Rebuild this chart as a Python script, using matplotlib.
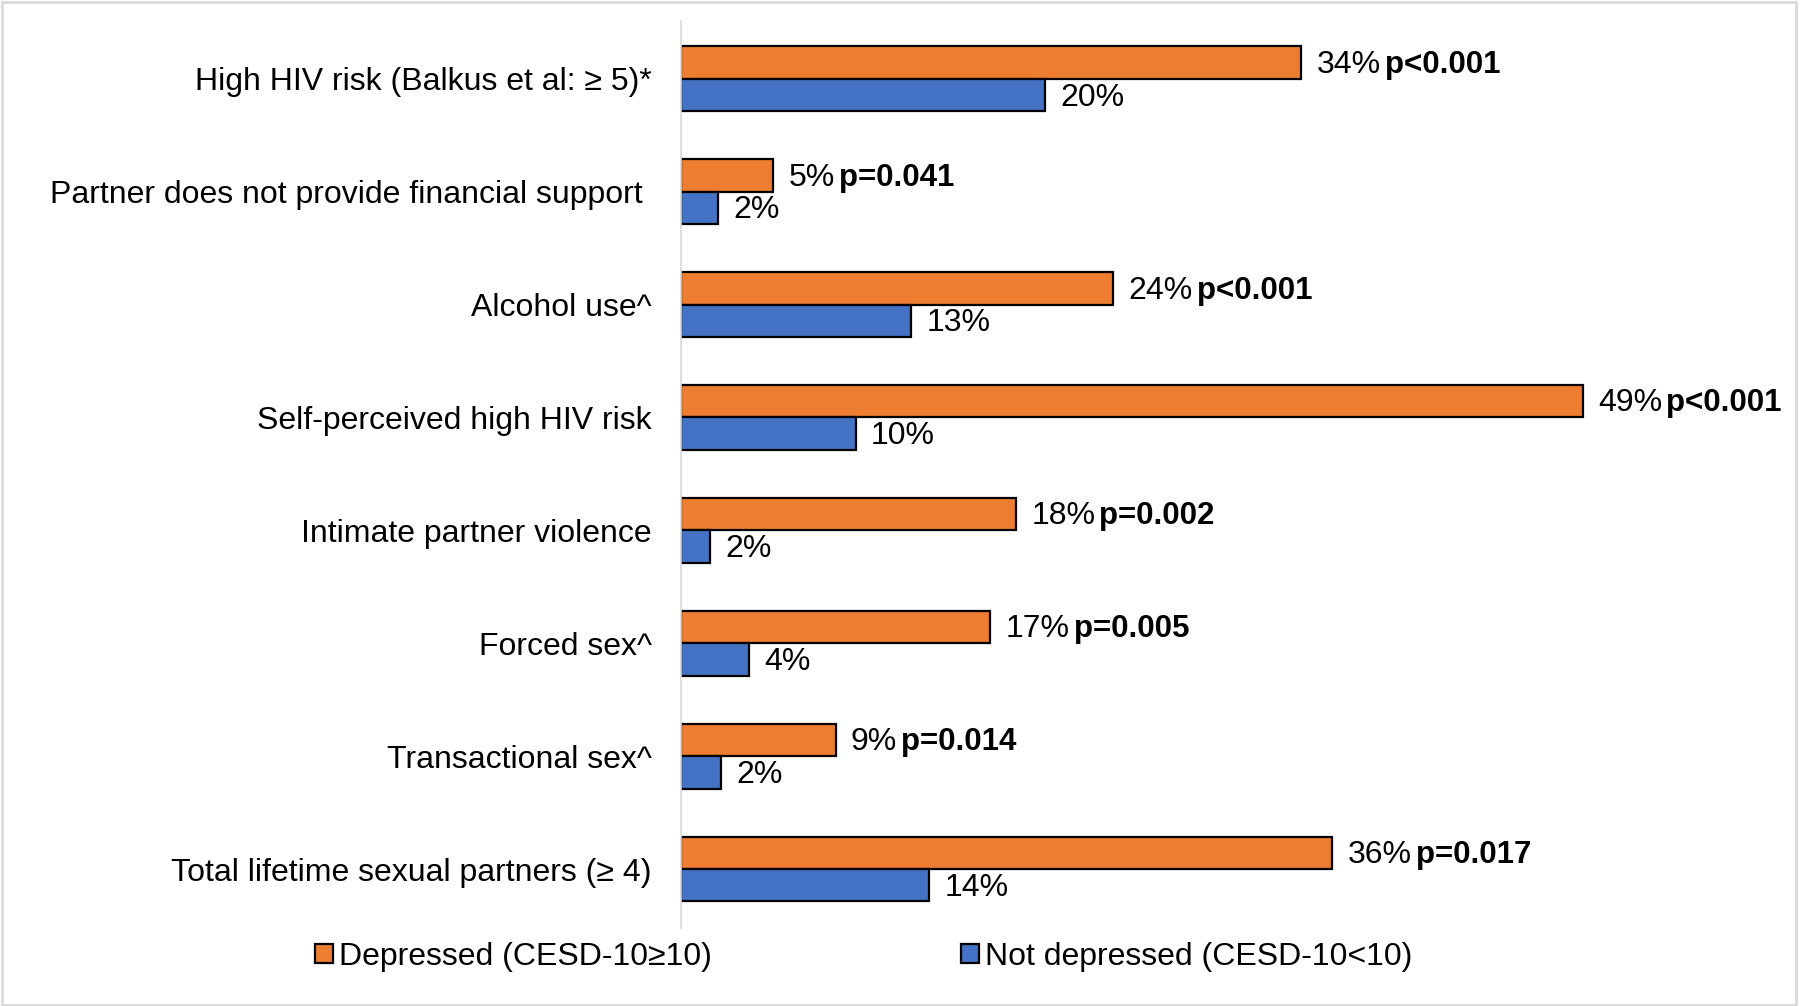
import numpy as np
import matplotlib.pyplot as plt
from matplotlib.patches import Rectangle

categories = [
    "High HIV risk (Balkus et al: \u2265 5)*",
    "Partner does not provide financial support ",
    "Alcohol use^",
    "Self-perceived high HIV risk",
    "Intimate partner violence",
    "Forced sex^",
    "Transactional sex^",
    "Total lifetime sexual partners (\u2265 4)",
]
# bar lengths (%), labels as printed
depressed = [33.7, 5.0, 23.5, 49.0, 18.2, 16.8, 8.4, 35.4]
not_depressed = [19.8, 2.0, 12.5, 9.5, 1.6, 3.7, 2.2, 13.5]
depressed_lbl = ["34%", "5%", "24%", "49%", "18%", "17%", "9%", "36%"]
not_depressed_lbl = ["20%", "2%", "13%", "10%", "2%", "4%", "2%", "14%"]
p_values = ["p<0.001", "p=0.041", "p<0.001", "p<0.001",
            "p=0.002", "p=0.005", "p=0.014", "p=0.017"]

plt.rcParams['font.family'] = ['Liberation Sans', 'DejaVu Sans']
FS = 23

orange = '#ED7D31'
blue = '#4472C4'

fig = plt.figure(figsize=(18, 10.06), dpi=100)
ax = fig.add_axes([681 / 1800, 0.0775, 0.593, 0.9016])

y = np.arange(len(categories))
h = 0.285
b1 = ax.barh(y - h / 2, depressed, height=h, color=orange, edgecolor='black',
             linewidth=1.6, label='Depressed (CESD-10\u226510)')
b2 = ax.barh(y + h / 2, not_depressed, height=h, color=blue, edgecolor='black',
             linewidth=1.6, label='Not depressed (CESD-10<10)')

ax.set_xlim(0, 58)
ax.set_ylim(7.52, -0.51)
ax.set_yticks(y)
ax.set_yticklabels(categories, fontsize=FS)
ax.tick_params(axis='y', length=0, pad=21)
ax.set_xticks([])
for s in ['top', 'right', 'bottom']:
    ax.spines[s].set_visible(False)
ax.spines['left'].set_color('#D9D9D9')
ax.spines['left'].set_linewidth(1.2)

for i in range(len(categories)):
    t = ax.annotate(depressed_lbl[i], xy=(depressed[i], y[i] - h / 2),
                    xytext=(11, -1.5), textcoords='offset points',
                    va='center', ha='left', fontsize=FS)
    ax.annotate(p_values[i], xy=(1, 0.5), xycoords=t, xytext=(3, 0),
                textcoords='offset points', va='center', ha='left',
                fontsize=FS - 0.5, fontweight='bold')
    ax.annotate(not_depressed_lbl[i], xy=(not_depressed[i], y[i] + h / 2),
                xytext=(11, -2), textcoords='offset points',
                va='center', ha='left', fontsize=FS)

fig.legend(handles=[b1, b2], loc='center', bbox_to_anchor=(864 / 1800, 1 - 957 / 1006),
           ncol=2, frameon=False, fontsize=FS, handlelength=0.55, handleheight=0.55,
           handletextpad=0.2, columnspacing=7.8)

fig.patches.append(Rectangle((0.001, 0.001), 0.997, 0.997, transform=fig.transFigure,
                             fill=False, edgecolor='#D9D9D9', linewidth=2))

fig.savefig('out.png', dpi=100)
